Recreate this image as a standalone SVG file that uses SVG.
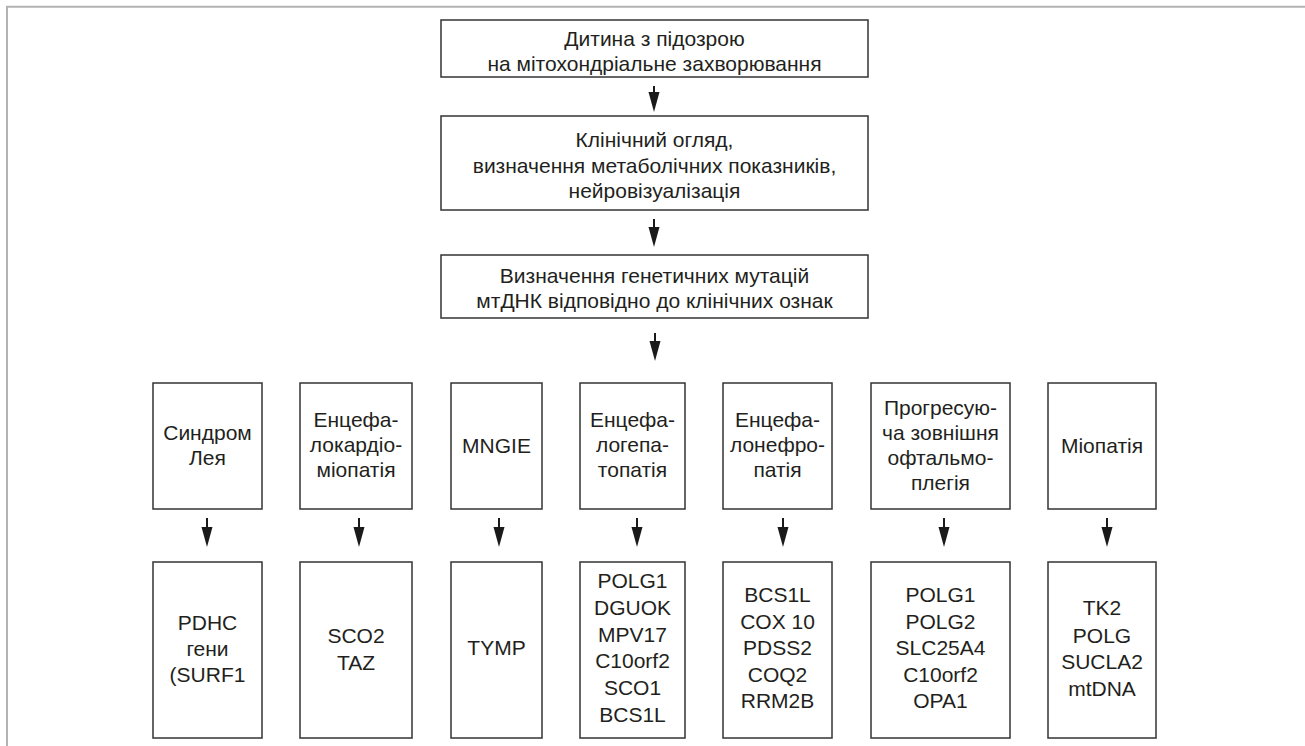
<svg xmlns="http://www.w3.org/2000/svg" width="1305" height="746" viewBox="0 0 1305 746">
<style>
.box{fill:#fff;stroke:#333;stroke-width:1.5}
.t{font-family:"Liberation Sans",Arial,sans-serif;font-size:21px;fill:#231f20;text-anchor:middle}
.arr{stroke:#1a1a1a;stroke-width:2;fill:none;marker-end:url(#ah)}
.frame{stroke:#b3b3b3;stroke-width:2;fill:none}
</style>
<defs>
<marker id="ah" viewBox="0 0 20 12" refX="10" refY="6" markerWidth="20" markerHeight="12" markerUnits="userSpaceOnUse" orient="auto">
<path d="M0,0.5 L20,6 L0,11.5 z" fill="#1a1a1a"/>
</marker>
</defs>
<rect width="1305" height="746" fill="#fff"/>
<path class="frame" d="M7,746 V6.8 H1305"/>

<g id="n1"><rect class="box" x="441" y="20" width="427" height="57"/>
<text class="t" x="654.5" y="45.5">Дитина з підозрою</text>
<text class="t" x="654.5" y="71">на мітохондріальне захворювання</text></g>

<g id="n2"><rect class="box" x="441" y="116" width="427" height="94"/>
<text class="t" x="654.5" y="147">Клінічний огляд,</text>
<text class="t" x="654.5" y="172.5">визначення метаболічних показників,</text>
<text class="t" x="654.5" y="198">нейровізуалізація</text></g>

<g id="n3"><rect class="box" x="441" y="255" width="427" height="63"/>
<text class="t" x="654.5" y="282.5">Визначення генетичних мутацій</text>
<text class="t" x="654.5" y="308">мтДНК відповідно до клінічних ознак</text></g>

<g id="d1"><rect class="box" x="153" y="383" width="109" height="126"/>
<text class="t" x="207.5" y="440">Синдром</text>
<text class="t" x="207.5" y="465">Лея</text></g>

<g id="d2"><rect class="box" x="300" y="383" width="112" height="126"/>
<text class="t" x="356" y="427">Енцефа-</text>
<text class="t" x="356" y="452">локардіо-</text>
<text class="t" x="356" y="477">міопатія</text></g>

<g id="d3"><rect class="box" x="451" y="383" width="91" height="126"/>
<text class="t" x="496.5" y="453">MNGIE</text></g>

<g id="d4"><rect class="box" x="580" y="383" width="105" height="126"/>
<text class="t" x="632.5" y="427">Енцефа-</text>
<text class="t" x="632.5" y="452">логепа-</text>
<text class="t" x="632.5" y="477">топатія</text></g>

<g id="d5"><rect class="box" x="723" y="383" width="109" height="126"/>
<text class="t" x="777.5" y="427">Енцефа-</text>
<text class="t" x="777.5" y="452">лонефро-</text>
<text class="t" x="777.5" y="477">патія</text></g>

<g id="d6"><rect class="box" x="871" y="383" width="139" height="126"/>
<text class="t" x="940.5" y="415">Прогресую-</text>
<text class="t" x="940.5" y="440">ча зовнішня</text>
<text class="t" x="940.5" y="465">офтальмо-</text>
<text class="t" x="940.5" y="490">плегія</text></g>

<g id="d7"><rect class="box" x="1048" y="383" width="108" height="126"/>
<text class="t" x="1102" y="453">Міопатія</text></g>

<g id="g1"><rect class="box" x="153" y="562" width="109" height="176"/>
<text class="t" x="207.5" y="630">PDHC</text>
<text class="t" x="207.5" y="656">гени</text>
<text class="t" x="207.5" y="682">(SURF1</text></g>

<g id="g2"><rect class="box" x="300" y="562" width="112" height="176"/>
<text class="t" x="356" y="643">SCO2</text>
<text class="t" x="356" y="670">TAZ</text></g>

<g id="g3"><rect class="box" x="451" y="562" width="91" height="176"/>
<text class="t" x="496.5" y="655">TYMP</text></g>

<g id="g4"><rect class="box" x="580" y="562" width="105" height="176"/>
<text class="t" x="632.5" y="588">POLG1</text>
<text class="t" x="632.5" y="615">DGUOK</text>
<text class="t" x="632.5" y="641.5">MPV17</text>
<text class="t" x="632.5" y="668">C10orf2</text>
<text class="t" x="632.5" y="695">SCO1</text>
<text class="t" x="632.5" y="722">BCS1L</text></g>

<g id="g5"><rect class="box" x="723" y="562" width="109" height="176"/>
<text class="t" x="777.5" y="602">BCS1L</text>
<text class="t" x="777.5" y="628.5">COX 10</text>
<text class="t" x="777.5" y="655">PDSS2</text>
<text class="t" x="777.5" y="682">COQ2</text>
<text class="t" x="777.5" y="708">RRM2B</text></g>

<g id="g6"><rect class="box" x="871" y="562" width="139" height="176"/>
<text class="t" x="940.5" y="602">POLG1</text>
<text class="t" x="940.5" y="628.5">POLG2</text>
<text class="t" x="940.5" y="655">SLC25A4</text>
<text class="t" x="940.5" y="682">C10orf2</text>
<text class="t" x="940.5" y="708">OPA1</text></g>

<g id="g7"><rect class="box" x="1048" y="562" width="108" height="176"/>
<text class="t" x="1102" y="615">TK2</text>
<text class="t" x="1102" y="643">POLG</text>
<text class="t" x="1102" y="669">SUCLA2</text>
<text class="t" x="1102" y="696">mtDNA</text></g>

<g id="connectors">
<line class="arr" x1="654" y1="86" x2="654" y2="102"/>
<line class="arr" x1="654" y1="219" x2="654" y2="237"/>
<line class="arr" x1="655" y1="333" x2="655" y2="351"/>
<line class="arr" x1="207" y1="518" x2="207" y2="537"/>
<line class="arr" x1="359" y1="518" x2="359" y2="537"/>
<line class="arr" x1="499" y1="518" x2="499" y2="537"/>
<line class="arr" x1="637" y1="518" x2="637" y2="537"/>
<line class="arr" x1="783" y1="518" x2="783" y2="537"/>
<line class="arr" x1="944" y1="518" x2="944" y2="537"/>
<line class="arr" x1="1107" y1="518" x2="1107" y2="537"/>
</g>
</svg>
